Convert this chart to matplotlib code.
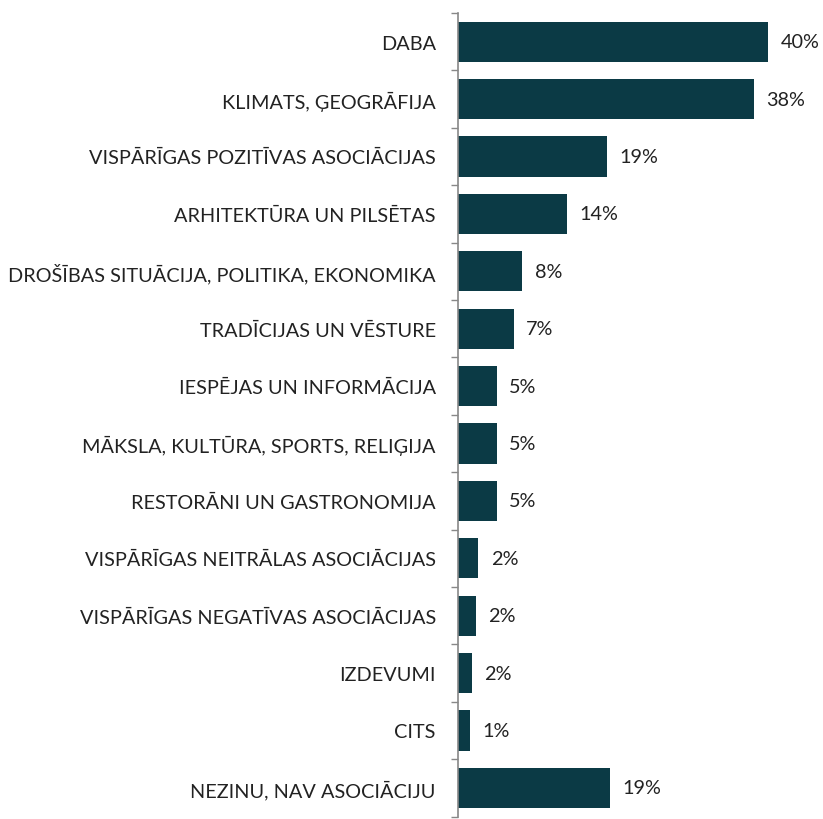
import matplotlib.pyplot as plt
from matplotlib.ticker import FixedLocator
import numpy as np

plt.rcParams['font.family'] = ['Lato', 'DejaVu Sans']

categories = [
    'DABA',
    'KLIMATS, ĢEOGRĀFIJA',
    'VISPĀRĪGAS POZITĪVAS ASOCIĀCIJAS',
    'ARHITEKTŪRA UN PILSĒTAS',
    'DROŠĪBAS SITUĀCIJA, POLITIKA, EKONOMIKA',
    'TRADĪCIJAS UN VĒSTURE',
    'IESPĒJAS UN INFORMĀCIJA',
    'MĀKSLA, KULTŪRA, SPORTS, RELIĢIJA',
    'RESTORĀNI UN GASTRONOMIJA',
    'VISPĀRĪGAS NEITRĀLAS ASOCIĀCIJAS',
    'VISPĀRĪGAS NEGATĪVAS ASOCIĀCIJAS',
    'IZDEVUMI',
    'CITS',
    'NEZINU, NAV ASOCIĀCIJU',
]
values = [40.0, 38.2, 19.2, 14.1, 8.3, 7.2, 5.0, 5.0, 5.0, 2.6, 2.3, 1.8, 1.5, 19.6]
value_labels = ['40%', '38%', '19%', '14%', '8%', '7%', '5%', '5%', '5%', '2%', '2%', '2%', '1%', '19%']

bar_color = '#0b3a45'

fig = plt.figure(figsize=(8.23, 8.2), dpi=100)
ax = fig.add_axes([0.5565, 0.003, 0.4435, 0.98])

y = np.arange(len(categories))
ax.barh(y, values, height=0.7, color=bar_color)

for yi, v, lab in zip(y, values, value_labels):
    ax.text(v + 1.6, yi, lab, va='center', ha='left', fontsize=14.3, color='#222222')

ax.set_yticks(y)
ax.set_yticklabels(categories, fontsize=14.3, color='#222222')
ax.set_ylim(len(categories) - 0.5, -0.5)
ax.set_xlim(0, 47.1)

# ticks at category boundaries
ax.yaxis.set_minor_locator(FixedLocator(np.arange(-0.5, len(categories), 1)))
ax.tick_params(axis='y', which='major', length=0, pad=16)
ax.tick_params(axis='y', which='minor', length=5, width=1, color='#888888')

ax.set_xticks([])
for s in ['top', 'right', 'bottom']:
    ax.spines[s].set_visible(False)
ax.spines['left'].set_color('#888888')
ax.spines['left'].set_linewidth(1.2)

plt.savefig('out.png', dpi=100)
